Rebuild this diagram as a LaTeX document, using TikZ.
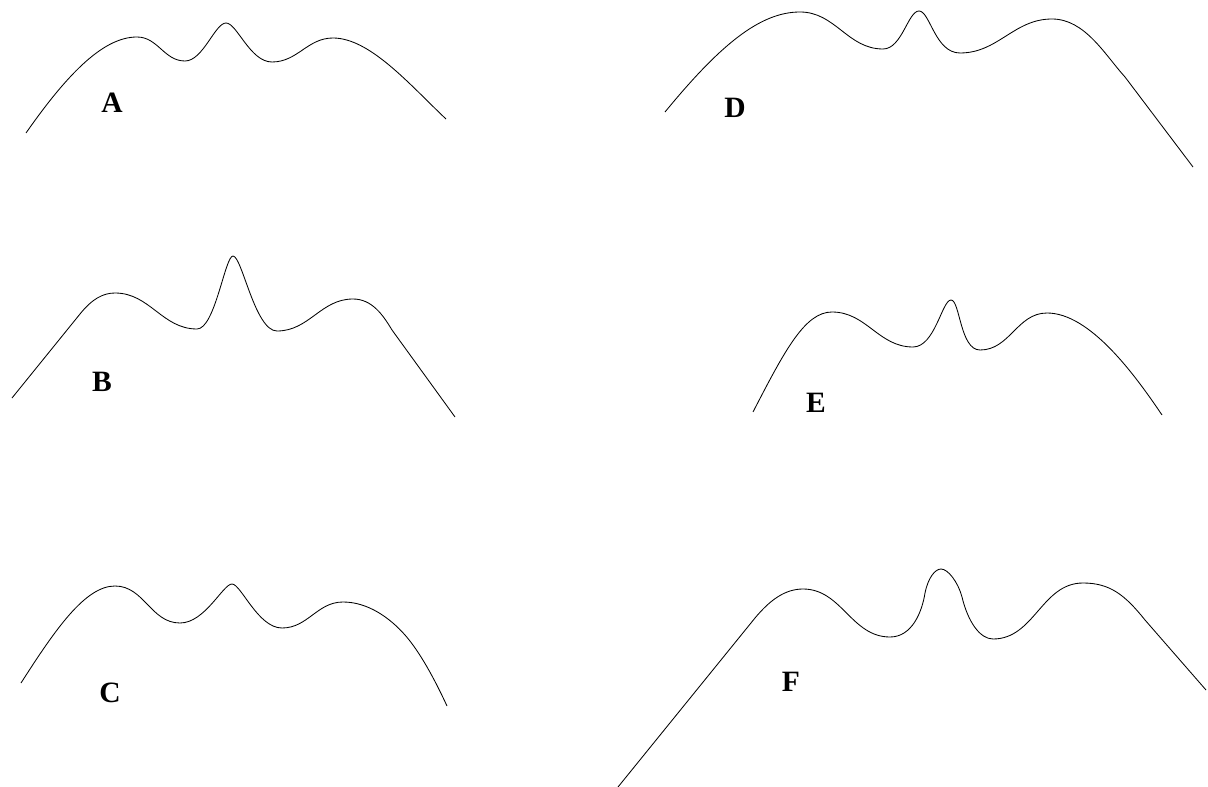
\documentclass[tikz,border=0pt]{standalone}
\usepackage{fontspec}
\setmainfont{Liberation Serif}
\usepackage{tikz}
\usetikzlibrary{positioning}

\begin{document}
\begin{tikzpicture}[
  x=0.025cm, y=-0.025cm,
  curve/.style={black, line width=0.6pt, line join=round},
  lbl/.style={font=\fontsize{21}{24}\selectfont\bfseries, inner sep=0pt},
  wave/.style={out=0, in=180},
]
  % Page frame
  \useasboundingbox (0,0) rectangle (1208,787);

  % Curve A
  \draw[curve] (26,133) .. controls (70,70) and (105,37) .. (137,37)
    to[wave] (185,61)
    .. controls (203,61) and (215,23) .. (226,23)
    .. controls (237,23) and (250,62) .. (272,62)
    to[wave] (333,38)
    .. controls (370,38) and (410,85) .. (446,119);
  \node[lbl] (labA) at (112,103) {A};

  % Curve B
  \draw[curve] (12,398) -- (80,314) .. controls (92,299) and (103,293) .. (115,293)
    to[wave] (197,329)
    .. controls (215,329) and (225,256) .. (233,256)
    .. controls (242,256) and (255,331) .. (277,331)
    to[wave] (353,299)
    .. controls (372,299) and (383,315) .. (392,330) -- (455,417);
  \node[lbl] (labB) at (102,382) {B};

  % Curve C
  \draw[curve] (21,683) .. controls (55,630) and (85,586) .. (115,586)
    to[wave] (180,623)
    .. controls (205,623) and (223,584) .. (232,584)
    .. controls (241,584) and (258,628) .. (282,628)
    to[wave] (343,602)
    .. controls (368,602) and (390,618) .. (405,635)
    .. controls (420,652) and (435,680) .. (447,706);
  \node[lbl] (labC) at (110,693) {C};

  % Curve D
  \draw[curve] (665,112) .. controls (720,45) and (760,12) .. (800,12)
    to[wave] (883,49)
    .. controls (902,49) and (908,11) .. (919,11)
    .. controls (930,11) and (935,53) .. (960,53)
    to[wave] (1052,19)
    .. controls (1085,19) and (1105,55) .. (1125,77) -- (1193,167);
  \node[lbl] (labD) at (735,108) {D};

  % Curve E
  \draw[curve] (753,412) .. controls (785,350) and (805,312) .. (832,312)
    to[wave] (913,347)
    .. controls (935,347) and (942,300) .. (951,300)
    .. controls (960,300) and (960,350) .. (980,350)
    to[wave] (1047,313)
    .. controls (1090,313) and (1135,375) .. (1162,415);
  \node[lbl] (labE) at (816,403) {E};

  % Curve F
  \draw[curve] (618,787) -- (755,618) .. controls (770,600) and (785,589) .. (803,589)
    to[wave] (890,637)
    .. controls (912,637) and (922,612) .. (925,593)
    .. controls (928,578) and (935,569) .. (941,569)
    .. controls (948,569) and (958,582) .. (962,597)
    .. controls (968,622) and (980,639) .. (993,639)
    to[wave] (1083,583)
    .. controls (1110,583) and (1125,595) .. (1145,620) -- (1206,690);
  \node[lbl] (labF) at (791,682) {F};
\end{tikzpicture}
\end{document}
